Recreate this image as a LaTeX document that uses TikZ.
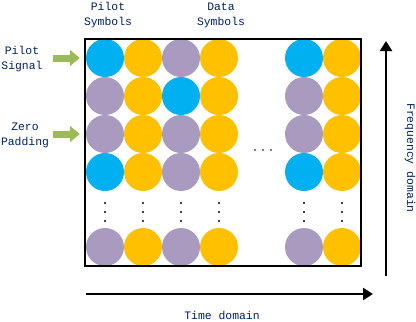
\documentclass[tikz,border=0pt]{standalone}
\usepackage{fontspec}
\setmainfont{Liberation Mono}
\usetikzlibrary{arrows.meta, positioning}
\definecolor{pilot}{HTML}{00B0F0}
\definecolor{data}{HTML}{FFC000}
\definecolor{zero}{RGB}{169,155,192}
\definecolor{padgreen}{HTML}{9BBB59}
\definecolor{navy}{HTML}{002060}

\begin{document}
\begin{tikzpicture}[x=1pt, y=-1pt,
        sym/.style={circle, minimum size=38pt, inner sep=0pt},
        lbl/.style={align=center, text=navy, inner sep=1pt, font=\fontsize{11.4}{15}\selectfont},
        garrow/.style={draw=padgreen, line width=7pt, -{Triangle[width=16pt, length=10pt]}},
        axis/.style={line width=2.4pt, -{Triangle[width=12pt, length=10pt]}}]
        \useasboundingbox (0,0) rectangle (416,322);
        % symbol grid
        \foreach \r/\y/\a/\b/\c/\d/\e/\f in {1/58/pilot/data/zero/data/pilot/data,
                2/96/zero/data/pilot/data/zero/data,
                3/134/zero/data/zero/data/zero/data,
                4/172/pilot/data/zero/data/pilot/data,
                5/247/zero/data/zero/data/zero/data}{
            \node[sym, fill=\a] (s\r-1) at (105,\y) {};
            \node[sym, fill=\b] (s\r-2) at (143,\y) {};
            \node[sym, fill=\c] (s\r-3) at (181,\y) {};
            \node[sym, fill=\d] (s\r-4) at (219,\y) {};
            \node[sym, fill=\e] (s\r-5) at (304,\y) {};
            \node[sym, fill=\f] (s\r-6) at (342,\y) {};
        }
        \foreach \x in {105,143,181,219,304,342}
            \foreach \y in {203,212,221}
                \fill (\x,\y) circle (1.1);
        \foreach \x in {255,263,271}
            \fill (\x,150) circle (0.9);
        \node[draw, line width=1.6pt, minimum width=276pt, minimum height=227pt] (grid) at (223,152.5) {};
        % labels
        \node[lbl] (psig) at (22,59) {Pilot\\Signal};
        \node[lbl] (zpad) at (25,135) {Zero\\Padding};
        \node[lbl] (psym) at (108,15) {Pilot\\Symbols};
        \node[lbl] (dsym) at (221,15) {Data\\Symbols};
        \node[lbl] (tdom) at (222,315) {Time domain};
        \node[lbl, rotate=-90] (fdom) at (410,158) {Frequency domain};
        % arrows
        \coordinate (pin) at (53,58);
        \coordinate (zin) at (53,134);
        \draw[garrow, shorten >=6pt] (pin) -- (s1-1.west);
        \draw[garrow, shorten >=6pt] (zin) -- (s3-1.west);
        \coordinate (t0) at (86,294);
        \coordinate (t1) at (373,294);
        \coordinate (f0) at (386,276);
        \coordinate (f1) at (386,41);
        \draw[axis] (t0) -- (t1);
        \draw[axis] (f0) -- (f1);
    \end{tikzpicture}
\end{document}
